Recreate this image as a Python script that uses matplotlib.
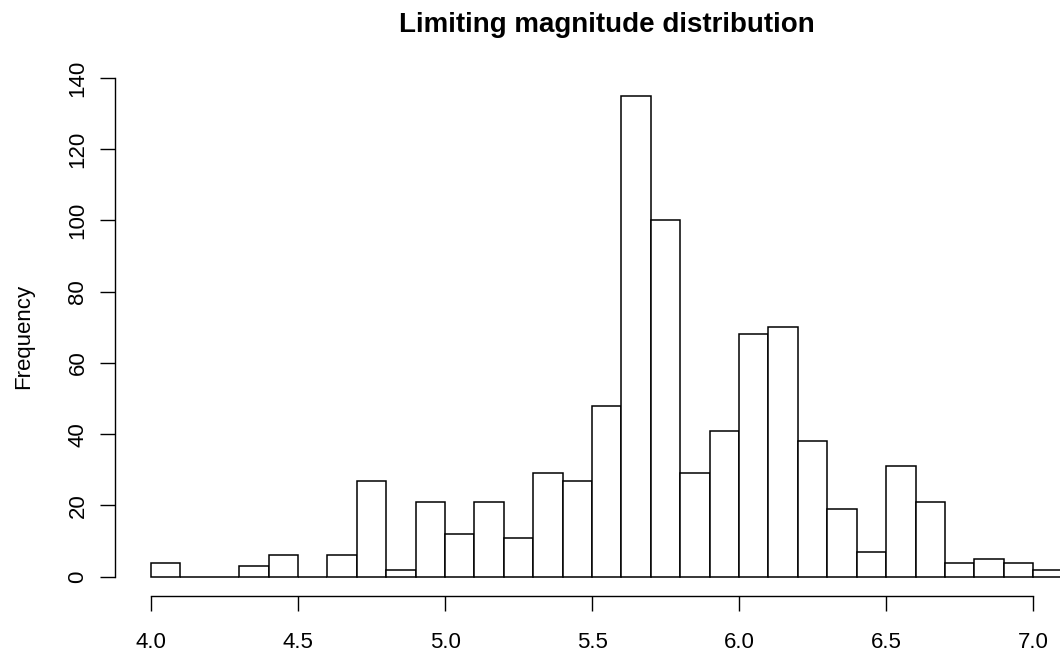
import matplotlib
matplotlib.use("Agg")
from matplotlib import pyplot as plt

plt.rcParams['font.family'] = ['Liberation Sans', 'DejaVu Sans']

# histogram bins (left edges, width 0.1) and their counts
bin_left = [4.0, 4.1, 4.2, 4.3, 4.4, 4.5, 4.6, 4.7, 4.8, 4.9,
            5.0, 5.1, 5.2, 5.3, 5.4, 5.5, 5.6, 5.7, 5.8, 5.9,
            6.0, 6.1, 6.2, 6.3, 6.4, 6.5, 6.6, 6.7, 6.8, 6.9, 7.0]
counts = [4, 0, 0, 3, 6, 0, 6, 27, 2, 21,
          12, 21, 11, 29, 27, 48, 135, 100, 29, 41,
          68, 70, 38, 19, 7, 31, 21, 4, 5, 4, 2]
bin_width = 0.1

x_ticks = [4.0, 4.5, 5.0, 5.5, 6.0, 6.5, 7.0]
y_ticks = [0, 20, 40, 60, 80, 100, 120, 140]

W, H = 1060, 651
fig = plt.figure(figsize=(W / 100, H / 100), dpi=100)
# plot region in pixels (R style, runs past the right edge of the picture)
left, right, top, bottom = 114.5, 1099, 76.5, 596
ax = fig.add_axes([left / W, 1 - bottom / H, (right - left) / W, (bottom - top) / H])

ax.bar(bin_left, counts, width=bin_width, align='edge',
       facecolor='white', edgecolor='black', linewidth=1.1)

ax.set_xlim(3.876, 7.224)
ax.set_ylim(-5.4, 140.4)

for side in ['top', 'right']:
    ax.spines[side].set_visible(False)
ax.spines['left'].set_bounds(0, 140)
ax.spines['bottom'].set_bounds(4.0, 7.0)
for side in ['left', 'bottom']:
    ax.spines[side].set_linewidth(1.0)

ax.set_xticks(x_ticks)
ax.set_xticklabels(['%.1f' % v for v in x_ticks])
ax.set_yticks(y_ticks)
ax.set_yticklabels([str(v) for v in y_ticks], rotation=90, va='center')
ax.tick_params(direction='out', length=10.8, width=1.0, labelsize=16,
               colors='black')
ax.tick_params(axis='x', pad=15)
ax.tick_params(axis='y', pad=8)

ax.set_ylabel('Frequency', fontsize=16, labelpad=24)
ax.set_title('Limiting magnitude distribution', fontsize=20,
             fontweight='bold', pad=32)

fig.savefig('out.png', dpi=100)
